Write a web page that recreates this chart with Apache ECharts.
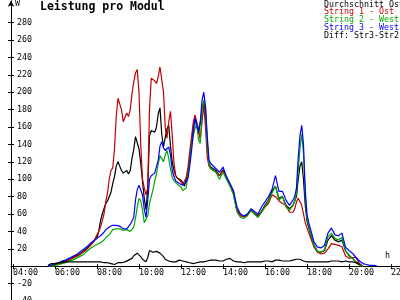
<!DOCTYPE html>
<html><head><meta charset="utf-8">
<script src="https://cdn.jsdelivr.net/npm/echarts@6/dist/echarts.min.js"></script>
<style>html,body{margin:0;padding:0;background:#fff}#c{width:400px;height:300px}</style>
</head><body><div id="c"></div>
<script>
const times = [
"05:40","05:50","06:00","06:10","06:20","06:30","06:40","06:50","07:00","07:10","07:20","07:30","07:40","07:50","08:00",
"08:05","08:10","08:15","08:20","08:25","08:30","08:35","08:40","08:45","08:50","08:55",
"09:00","09:05","09:10","09:15","09:20","09:25","09:30","09:35","09:40","09:45","09:50","09:55",
"10:00","10:05","10:10","10:15","10:20","10:25","10:30","10:35","10:40","10:45","10:50","10:55",
"11:00","11:05","11:10","11:15","11:20","11:25","11:30","11:35","11:40","11:45","11:50","11:55",
"12:00","12:05","12:10","12:15","12:20","12:25","12:30","12:35","12:40","12:45","12:50","12:55",
"13:00","13:05","13:10","13:15","13:20","13:25","13:30",
"13:40","13:50","14:00","14:10","14:20","14:30","14:40","14:50","15:00","15:10","15:20","15:30","15:40","15:50","16:00","16:10","16:20","16:30","16:40","16:50","17:00","17:10","17:20",
"17:25","17:30","17:35","17:40","17:45","17:50","17:55","18:00","18:05","18:10",
"18:20","18:30","18:40","18:50","19:00","19:10","19:20","19:30","19:40","19:50","20:00","20:10","20:20","20:30","20:40","20:50","21:00","21:10","21:20"
];
const durchschnitt = [
0,1,2,3,5,6,8,10,12,14,17,20,24,28,33,
40,52,60,66,72,75,77,85,95,103,115,
120,115,110,107,105,110,106,110,124,134,149,147,
135,118,98,78,65,90,150,156,155,154,160,175,
182,152,137,148,158,162,138,120,110,104,101,100,
99,96,92,93,108,125,140,158,170,172,152,150,
178,190,175,142,118,114,114,
110,104,111,102,94,84,64,58,57,59,65,61,58,63,70,76,86,92,78,80,70,66,70,
72,80,100,115,120,100,70,52,44,37,
24,17,16,18,30,35,30,28,30,18,12,9,5,2,0,null,null,null,null
];
const string1 = [
0,0,1,2,4,5,7,9,11,13,16,19,23,28,36,
40,45,52,60,74,84,100,110,113,135,172,
193,191,180,166,168,176,172,180,198,212,222,226,
200,140,100,90,82,90,180,216,214,213,210,218,
229,230,200,160,147,166,178,150,118,104,101,99,
97,94,92,102,114,132,148,165,174,176,158,145,
165,186,160,125,115,112,110,
108,104,110,102,94,84,65,58,57,60,64,60,57,62,68,72,82,80,75,72,70,62,62,
66,74,78,76,70,60,50,44,38,33,
22,16,14,15,20,26,25,24,22,12,9,10,10,3,0,null,null,null,null
];
const string2 = [
0,0,1,2,3,4,6,7,9,11,13,17,20,23,25,
26,27,28,30,33,35,36,39,42,43,43,
43,43,42,41,41,42,43,40,38,45,55,68,
78,75,65,50,48,58,72,80,88,98,106,118,
127,124,120,128,133,124,112,102,98,96,94,93,
91,87,87,90,105,120,138,151,158,164,145,141,
176,191,183,140,118,112,110,
108,100,108,100,92,82,62,56,55,58,64,60,56,62,68,75,84,92,76,80,68,64,70,
75,84,110,135,152,130,80,55,46,38,
24,17,16,19,34,38,32,30,33,18,13,9,4,1,0,null,null,null,null
];
const string3 = [
0,1,3,4,6,7,9,11,13,16,19,22,26,29,32,
33,35,37,39,42,44,45,46,47,47,47,
47,46,45,43,42,43,45,48,50,56,76,88,
93,92,82,66,56,75,100,104,106,107,108,122,
138,143,136,133,134,137,128,110,103,98,96,95,
94,93,94,97,101,115,132,152,170,168,155,165,
190,200,184,150,122,118,118,
112,108,114,103,95,87,68,60,58,60,66,63,60,68,74,80,88,104,86,86,76,70,76,
80,90,125,150,162,140,88,60,50,43,
28,22,21,24,38,44,36,35,38,22,18,15,10,6,3,2,1,1,0
];
const diff32 = [
1,3,3,4,4,5,5,5,5,5,5,5,5,5,5,
5,5,5,4,4,4,3,3,3,2,3,
4,4,4,4,5,6,7,8,9,12,14,15,
13,11,8,6,5,10,18,17,16,16,17,16,
15,13,11,8,7,6,5,5,5,5,6,7,
7,6,6,5,5,4,4,3,3,4,5,5,
5,5,5,6,6,7,8,
7,6,6,8,9,6,5,5,4,5,5,5,5,5,6,6,5,7,7,6,6,6,7,
7,8,9,8,7,6,6,5,5,5,
5,5,5,5,5,6,6,6,5,6,5,5,4,2,null,null,null,null,null
];
const seriesNames = ["Durchschnitt Ost","String 1 - Ost","String 2 - West","String 3 - West","Diff: Str3-Str2"];
const xTicks = [4,6,8,10,12,14,16,18,20,22];
const yTicksPos = [20,40,60,80,100,120,140,160,180,200,220,240,260,280];
const yTicksNeg = [-40,-20];

const FONT = 'DejaVu Sans Mono';
const colors = ['#000000','#c00000','#00a800','#0000ff','#000000'];
function toH(s){const p=s.split(':');return (+p[0]) + (+p[1])/60;}
function pairs(vals){return times.map((t,i)=>[toH(t), vals[i]]);}
const allVals = [durchschnitt,string1,string2,string3,diff32];

const XMIN = 3.905, XMAX = 22.43;
const ZERO_Y = 266.2, K = 0.87;
const YMAX = 305, YMIN = -45;
const topA = ZERO_Y - YMAX*K;
const bottomA = 300 - ZERO_Y;
const bottomB = 300 - (ZERO_Y - YMIN*K);
const lbl = {color:'#000',fontFamily:FONT,fontSize:8.3};
const tickStyle = {color:'#000',width:1};

const chart = echarts.init(document.getElementById('c'), null, {renderer:'canvas'});
chart.setOption({
  animation:false,
  backgroundColor:'#ffffff',
  grid:[
    {left:11,right:0,top:topA,bottom:bottomA,containLabel:false,outerBoundsMode:'none'},
    {left:11,right:0,top:ZERO_Y,bottom:bottomB,containLabel:false,outerBoundsMode:'none'}
  ],
  xAxis:[
    {gridIndex:0,type:'value',min:XMIN,max:XMAX,position:'bottom',
     axisLine:{onZero:false,lineStyle:{color:'#000',width:1}},
     axisTick:{customValues:xTicks,length:3,lineStyle:tickStyle},
     axisLabel:Object.assign({customValues:xTicks,formatter:v=>String(v).padStart(2,'0')+':00',align:'left',verticalAlign:'top',margin:3},lbl),
     splitLine:{show:false}},
    {gridIndex:0,type:'value',min:XMIN,max:XMAX,position:'bottom',
     axisLine:{show:false,onZero:false},
     axisTick:{customValues:xTicks,inside:true,length:2,lineStyle:tickStyle},
     axisLabel:{show:false},splitLine:{show:false}},
    {gridIndex:1,type:'value',min:XMIN,max:XMAX,show:false}
  ],
  yAxis:[
    {gridIndex:0,type:'value',min:0,max:YMAX,position:'left',
     axisLine:{onZero:false,symbol:['none','arrow'],symbolSize:[5,6],lineStyle:{color:'#000',width:1}},
     axisTick:{customValues:yTicksPos,length:3,lineStyle:tickStyle},
     axisLabel:Object.assign({customValues:yTicksPos,inside:true,margin:6},lbl),
     splitLine:{show:false}},
    {gridIndex:0,type:'value',min:0,max:YMAX,position:'left',
     axisLine:{show:false,onZero:false},
     axisTick:{customValues:yTicksPos,inside:true,length:3,lineStyle:tickStyle},
     axisLabel:{show:false},splitLine:{show:false}},
    {gridIndex:1,type:'value',min:YMIN,max:0,position:'left',
     axisLine:{onZero:false,lineStyle:{color:'#000',width:1}},
     axisTick:{customValues:yTicksNeg,length:3,lineStyle:tickStyle},
     axisLabel:Object.assign({customValues:yTicksNeg,inside:true,margin:6},lbl),
     splitLine:{show:false}},
    {gridIndex:1,type:'value',min:YMIN,max:0,position:'left',
     axisLine:{show:false,onZero:false},
     axisTick:{customValues:yTicksNeg,inside:true,length:3,lineStyle:tickStyle},
     axisLabel:{show:false},splitLine:{show:false}}
  ],
  series: seriesNames.map((n,i)=>({
    name:n,type:'line',xAxisIndex:0,yAxisIndex:0,
    data:pairs(allVals[i]),
    showSymbol:false,symbol:'none',connectNulls:false,clip:false,
    lineStyle:{color:colors[i],width:1.2},
    itemStyle:{color:colors[i]},
    z:2+i
  })),
  graphic:[
    {type:'text',x:40,y:1,style:{text:'Leistung pro Modul',font:'bold 11.5px "DejaVu Sans Mono"',fill:'#000',textVerticalAlign:'top'}},
    {type:'text',x:15,y:0,style:{text:'W',font:'8.3px "DejaVu Sans Mono"',fill:'#000',textVerticalAlign:'top'}},
    {type:'text',x:385,y:252,style:{text:'h',font:'8.3px "DejaVu Sans Mono"',fill:'#000',textVerticalAlign:'top'}}
  ].concat(seriesNames.map((t,i)=>({
    type:'text',x:324,y:0.5+i*7.8,
    style:{text:t,font:'8.3px "DejaVu Sans Mono"',fill:colors[i],textVerticalAlign:'top'}
  })))
});
</script>
</body></html>
